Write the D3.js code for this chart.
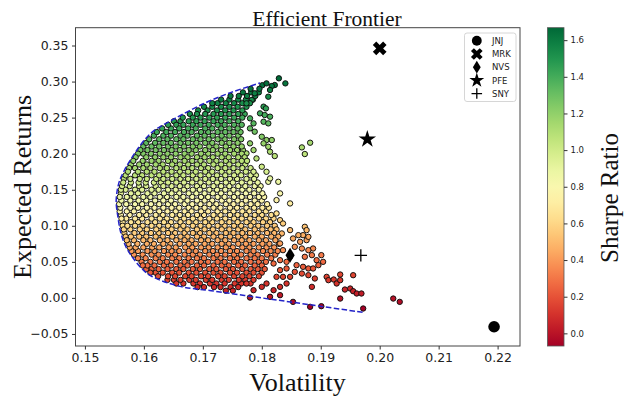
<!DOCTYPE html>
<html>
<head>
<meta charset="utf-8">
<script src="https://cdn.jsdelivr.net/npm/d3@7"></script>
<style>
  body { margin: 0; background: #fff; }
  svg { display: block; }
</style>
</head>
<body>
<script>
// Chart size
var width = 625,
    height = 400;

// Plot box (pixels)
var plotLeft = 75.5, plotRight = 520, plotTop = 27.7, plotBottom = 346;

// Axis limits
var volDomain = [0.1484, 0.2238];
var retDomain = [-0.0667, 0.3747];
var volTicks = [0.15, 0.16, 0.17, 0.18, 0.19, 0.20, 0.21, 0.22];
var retTicks = [-0.05, 0, 0.05, 0.10, 0.15, 0.20, 0.25, 0.30, 0.35];
var sharpeDomain = [-0.069, 1.668];
var sharpeTicks = [0, 0.2, 0.4, 0.6, 0.8, 1.0, 1.2, 1.4, 1.6];

// Simulated portfolios, dense cloud: one return level per row, with the volatilities found on it
var rowReturns = [0.010, 0.015, 0.020, 0.025, 0.030, 0.035, 0.040, 0.045, 0.050, 0.055,
  0.060, 0.065, 0.070, 0.075, 0.080, 0.085, 0.090, 0.095, 0.100, 0.105,
  0.110, 0.115, 0.120, 0.125, 0.130, 0.135, 0.140, 0.145, 0.150, 0.155,
  0.160, 0.165, 0.170, 0.175, 0.180, 0.185, 0.190, 0.195, 0.200, 0.205,
  0.210, 0.215, 0.220, 0.225, 0.230, 0.235, 0.240, 0.245, 0.250, 0.255,
  0.260, 0.265, 0.270, 0.275, 0.280, 0.285, 0.290, 0.295];

var rowVolatilities = [
  [0.1739, 0.1751],
  [0.1691, 0.1702, 0.1719, 0.1730, 0.1747, 0.1760],
  [0.1655, 0.1667, 0.1684, 0.1695, 0.1712, 0.1723, 0.1737, 0.1754, 0.1765, 0.1781],
  [0.1640, 0.1651, 0.1662, 0.1677, 0.1688, 0.1705, 0.1716, 0.1732, 0.1744, 0.1761, 0.1772, 0.1786],
  [0.1624, 0.1641, 0.1653, 0.1670, 0.1681, 0.1697, 0.1709, 0.1726, 0.1737, 0.1753, 0.1767, 0.1779, 0.1795],
  [0.1611, 0.1620, 0.1632, 0.1648, 0.1660, 0.1676, 0.1689, 0.1704, 0.1718, 0.1730, 0.1746, 0.1758, 0.1774, 0.1786, 0.1800],
  [0.1604, 0.1613, 0.1625, 0.1640, 0.1655, 0.1667, 0.1683, 0.1695, 0.1711, 0.1723, 0.1739, 0.1751, 0.1767, 0.1781, 0.1793, 0.1805],
  [0.1598, 0.1606, 0.1618, 0.1634, 0.1646, 0.1662, 0.1674, 0.1690, 0.1702, 0.1718, 0.1732, 0.1744, 0.1760, 0.1772, 0.1788, 0.1800],
  [0.1596, 0.1611, 0.1627, 0.1639, 0.1655, 0.1669, 0.1681, 0.1697, 0.1709, 0.1725, 0.1737, 0.1753, 0.1765, 0.1781, 0.1795, 0.1807],
  [0.1590, 0.1603, 0.1620, 0.1632, 0.1648, 0.1660, 0.1676, 0.1690, 0.1702, 0.1718, 0.1730, 0.1746, 0.1758, 0.1774, 0.1788, 0.1800, 0.1816],
  [0.1583, 0.1598, 0.1613, 0.1625, 0.1641, 0.1653, 0.1669, 0.1683, 0.1695, 0.1711, 0.1724, 0.1738, 0.1753, 0.1765, 0.1781, 0.1793, 0.1809, 0.1823],
  [0.1579, 0.1590, 0.1606, 0.1618, 0.1634, 0.1647, 0.1660, 0.1676, 0.1688, 0.1704, 0.1717, 0.1731, 0.1746, 0.1758, 0.1774, 0.1786, 0.1802, 0.1815, 0.1827],
  [0.1576, 0.1586, 0.1599, 0.1614, 0.1626, 0.1642, 0.1654, 0.1670, 0.1682, 0.1697, 0.1710, 0.1725, 0.1739, 0.1751, 0.1767, 0.1779, 0.1795, 0.1808, 0.1821],
  [0.1574, 0.1589, 0.1605, 0.1617, 0.1633, 0.1645, 0.1661, 0.1676, 0.1688, 0.1703, 0.1716, 0.1732, 0.1744, 0.1760, 0.1773, 0.1786, 0.1801, 0.1813, 0.1829],
  [0.1571, 0.1583, 0.1599, 0.1611, 0.1627, 0.1640, 0.1655, 0.1669, 0.1681, 0.1697, 0.1709, 0.1725, 0.1738, 0.1753, 0.1766, 0.1779, 0.1795, 0.1807, 0.1823],
  [0.1569, 0.1578, 0.1592, 0.1604, 0.1620, 0.1632, 0.1648, 0.1662, 0.1674, 0.1690, 0.1702, 0.1718, 0.1731, 0.1746, 0.1760, 0.1772, 0.1788, 0.1800, 0.1816, 0.1828],
  [0.1567, 0.1584, 0.1597, 0.1612, 0.1625, 0.1641, 0.1653, 0.1669, 0.1683, 0.1695, 0.1711, 0.1723, 0.1739, 0.1752, 0.1767, 0.1780, 0.1793, 0.1809, 0.1821],
  [0.1566, 0.1577, 0.1593, 0.1605, 0.1621, 0.1633, 0.1647, 0.1662, 0.1674, 0.1690, 0.1703, 0.1717, 0.1732, 0.1745, 0.1760, 0.1772, 0.1788, 0.1801, 0.1815, 0.1825],
  [0.1564, 0.1572, 0.1585, 0.1598, 0.1613, 0.1626, 0.1641, 0.1655, 0.1667, 0.1683, 0.1696, 0.1710, 0.1725, 0.1737, 0.1753, 0.1765, 0.1781, 0.1794, 0.1809, 0.1822],
  [0.1564, 0.1578, 0.1590, 0.1606, 0.1619, 0.1634, 0.1646, 0.1662, 0.1676, 0.1688, 0.1704, 0.1716, 0.1732, 0.1745, 0.1759, 0.1774, 0.1786, 0.1802, 0.1814],
  [0.1562, 0.1570, 0.1585, 0.1597, 0.1613, 0.1627, 0.1639, 0.1655, 0.1668, 0.1683, 0.1696, 0.1711, 0.1724, 0.1738, 0.1753, 0.1766, 0.1780, 0.1795, 0.1807, 0.1820],
  [0.1561, 0.1576, 0.1592, 0.1604, 0.1620, 0.1632, 0.1648, 0.1661, 0.1675, 0.1690, 0.1702, 0.1718, 0.1730, 0.1746, 0.1759, 0.1773, 0.1788, 0.1800, 0.1816],
  [0.1559, 0.1571, 0.1583, 0.1599, 0.1611, 0.1626, 0.1640, 0.1654, 0.1669, 0.1681, 0.1697, 0.1709, 0.1725, 0.1738, 0.1752, 0.1767, 0.1779, 0.1795, 0.1807],
  [0.1560, 0.1577, 0.1590, 0.1605, 0.1618, 0.1633, 0.1647, 0.1660, 0.1676, 0.1689, 0.1703, 0.1718, 0.1730, 0.1746, 0.1758, 0.1774, 0.1787, 0.1801, 0.1812],
  [0.1558, 0.1570, 0.1585, 0.1597, 0.1612, 0.1626, 0.1641, 0.1653, 0.1669, 0.1682, 0.1696, 0.1711, 0.1723, 0.1739, 0.1752, 0.1766, 0.1781, 0.1793, 0.1809],
  [0.1562, 0.1577, 0.1591, 0.1604, 0.1619, 0.1633, 0.1646, 0.1662, 0.1674, 0.1690, 0.1703, 0.1716, 0.1732, 0.1745, 0.1759, 0.1773, 0.1788, 0.1800],
  [0.1559, 0.1571, 0.1584, 0.1599, 0.1611, 0.1627, 0.1639, 0.1655, 0.1667, 0.1682, 0.1697, 0.1709, 0.1725, 0.1737, 0.1753, 0.1766, 0.1780, 0.1795, 0.1804],
  [0.1561, 0.1578, 0.1590, 0.1606, 0.1618, 0.1634, 0.1647, 0.1660, 0.1676, 0.1689, 0.1703, 0.1717, 0.1731, 0.1746, 0.1759, 0.1773, 0.1787, 0.1801],
  [0.1561, 0.1569, 0.1585, 0.1597, 0.1613, 0.1625, 0.1641, 0.1654, 0.1668, 0.1683, 0.1695, 0.1711, 0.1724, 0.1738, 0.1752, 0.1767, 0.1779, 0.1795],
  [0.1563, 0.1576, 0.1592, 0.1604, 0.1620, 0.1633, 0.1647, 0.1661, 0.1674, 0.1690, 0.1702, 0.1718, 0.1731, 0.1745, 0.1760, 0.1772, 0.1788, 0.1798],
  [0.1565, 0.1578, 0.1591, 0.1603, 0.1617, 0.1629, 0.1641, 0.1655, 0.1668, 0.1682, 0.1696, 0.1710, 0.1724, 0.1739, 0.1751, 0.1766, 0.1780, 0.1793],
  [0.1566, 0.1577, 0.1593, 0.1605, 0.1621, 0.1633, 0.1648, 0.1662, 0.1675, 0.1689, 0.1704, 0.1717, 0.1731, 0.1746, 0.1758, 0.1774, 0.1787],
  [0.1569, 0.1585, 0.1597, 0.1613, 0.1626, 0.1640, 0.1655, 0.1667, 0.1683, 0.1696, 0.1710, 0.1724, 0.1738, 0.1753, 0.1765, 0.1781, 0.1790],
  [0.1573, 0.1590, 0.1605, 0.1618, 0.1633, 0.1647, 0.1661, 0.1675, 0.1688, 0.1704, 0.1716, 0.1732, 0.1745, 0.1759, 0.1773, 0.1786],
  [0.1575, 0.1585, 0.1599, 0.1611, 0.1627, 0.1639, 0.1655, 0.1668, 0.1682, 0.1697, 0.1709, 0.1725, 0.1738, 0.1752, 0.1767, 0.1781],
  [0.1578, 0.1592, 0.1605, 0.1620, 0.1632, 0.1648, 0.1661, 0.1675, 0.1690, 0.1702, 0.1718, 0.1731, 0.1745, 0.1760, 0.1772],
  [0.1582, 0.1598, 0.1613, 0.1625, 0.1641, 0.1653, 0.1669, 0.1682, 0.1696, 0.1711, 0.1723, 0.1739, 0.1752, 0.1766, 0.1775],
  [0.1586, 0.1604, 0.1619, 0.1633, 0.1646, 0.1662, 0.1674, 0.1690, 0.1703, 0.1717, 0.1732, 0.1744, 0.1760, 0.1771],
  [0.1590, 0.1599, 0.1612, 0.1627, 0.1640, 0.1654, 0.1669, 0.1681, 0.1697, 0.1709, 0.1725, 0.1738, 0.1753, 0.1766],
  [0.1594, 0.1606, 0.1620, 0.1634, 0.1647, 0.1661, 0.1676, 0.1688, 0.1704, 0.1717, 0.1731, 0.1746, 0.1758, 0.1768],
  [0.1599, 0.1613, 0.1626, 0.1641, 0.1654, 0.1668, 0.1683, 0.1695, 0.1711, 0.1723, 0.1739, 0.1752, 0.1766],
  [0.1604, 0.1619, 0.1633, 0.1646, 0.1662, 0.1675, 0.1689, 0.1704, 0.1716, 0.1732, 0.1745, 0.1759],
  [0.1609, 0.1626, 0.1640, 0.1655, 0.1667, 0.1683, 0.1696, 0.1710, 0.1725, 0.1737, 0.1753, 0.1765],
  [0.1617, 0.1633, 0.1646, 0.1662, 0.1674, 0.1690, 0.1703, 0.1717, 0.1732, 0.1745, 0.1760],
  [0.1622, 0.1638, 0.1653, 0.1668, 0.1681, 0.1697, 0.1709, 0.1725, 0.1738, 0.1752, 0.1764],
  [0.1631, 0.1646, 0.1660, 0.1675, 0.1688, 0.1704, 0.1716, 0.1731, 0.1745, 0.1759],
  [0.1641, 0.1655, 0.1667, 0.1683, 0.1696, 0.1710, 0.1725, 0.1737, 0.1753, 0.1766],
  [0.1651, 0.1662, 0.1676, 0.1689, 0.1703, 0.1718, 0.1731, 0.1745, 0.1760],
  [0.1666, 0.1683, 0.1696, 0.1711, 0.1724, 0.1738, 0.1753, 0.1767],
  [0.1678, 0.1690, 0.1704, 0.1718, 0.1731, 0.1745, 0.1760, 0.1771],
  [0.1692, 0.1708, 0.1724, 0.1738, 0.1752, 0.1767],
  [0.1702, 0.1716, 0.1731, 0.1745, 0.1759, 0.1774],
  [0.1716, 0.1725, 0.1739, 0.1753, 0.1767, 0.1780],
  [0.1731, 0.1745, 0.1760, 0.1773, 0.1785],
  [0.1747, 0.1761, 0.1775, 0.1789],
  [0.1768, 0.1782, 0.1795],
  [0.1781, 0.1796],
  [0.1801]
];

// Portfolios scattered outside the dense cloud [volatility, return]
var scatteredPoints = [
  [0.2023, -0.0009], [0.2034, -0.0055], [0.1972, -0.0147], [0.1933, -0.0009], [0.1901, -0.0115],
  [0.1882, -0.0124], [0.1853, -0.0055], [0.1780, 0.0005], [0.1814, 0.0015], [0.1831, 0.0038],
  [0.1969, 0.0061], [0.1961, 0.0061], [0.1955, 0.0093], [0.1950, 0.0130], [0.1941, 0.0116],
  [0.1955, 0.0315], [0.1933, 0.0324], [0.1933, 0.0246], [0.1927, 0.0200], [0.1922, 0.0255],
  [0.1913, 0.0246], [0.1910, 0.0292], [0.1890, 0.0269], [0.1885, 0.0153], [0.1879, 0.0315],
  [0.1868, 0.0338], [0.1856, 0.0361], [0.1859, 0.0454], [0.1870, 0.0431], [0.1879, 0.0408],
  [0.1887, 0.0408], [0.1896, 0.0454], [0.1904, 0.0500], [0.1893, 0.0523], [0.1901, 0.0593],
  [0.1885, 0.0593], [0.1873, 0.0570], [0.1879, 0.0662], [0.1868, 0.0685], [0.1887, 0.0685],
  [0.1856, 0.0708], [0.1865, 0.0778], [0.1876, 0.0801], [0.1853, 0.0824], [0.1862, 0.0870],
  [0.1870, 0.0870], [0.1879, 0.0847], [0.1876, 0.0940], [0.1873, 0.0986], [0.1848, 0.0940],
  [0.1774, 0.0199], [0.1786, 0.0107], [0.1800, 0.0153], [0.1808, 0.0199], [0.1820, 0.0107],
  [0.1831, 0.0153], [0.1842, 0.0199], [0.1836, 0.0292], [0.1848, 0.0292], [0.1825, 0.0292],
  [0.1831, 0.0385], [0.1842, 0.0408], [0.1820, 0.0477], [0.1831, 0.0523], [0.1842, 0.0500],
  [0.1848, 0.0570], [0.1836, 0.0662], [0.1831, 0.0755], [0.1834, 0.0894], [0.1836, 0.1032],
  [0.1831, 0.1078], [0.1825, 0.1171], [0.1825, 0.1356], [0.1848, 0.1310], [0.1831, 0.1449],
  [0.1811, 0.1610], [0.1828, 0.1610], [0.1814, 0.1657], [0.1808, 0.1749], [0.1800, 0.1819],
  [0.1791, 0.1934], [0.1822, 0.1967], [0.1774, 0.2004], [0.1814, 0.2027], [0.1786, 0.2050],
  [0.1811, 0.2096], [0.1780, 0.2143], [0.1803, 0.2143], [0.1808, 0.2189], [0.1817, 0.2189],
  [0.1800, 0.2235], [0.1788, 0.2305], [0.1780, 0.2351], [0.1786, 0.2420], [0.1811, 0.2420],
  [0.1803, 0.2443], [0.1780, 0.2490], [0.1814, 0.2513], [0.1805, 0.2536], [0.1797, 0.2559],
  [0.1807, 0.2628], [0.1803, 0.2652], [0.1774, 0.2698], [0.1783, 0.2744], [0.1811, 0.2790],
  [0.1788, 0.2837], [0.1814, 0.2883], [0.1817, 0.2938], [0.1822, 0.2952], [0.1808, 0.2975],
  [0.1840, 0.2975], [0.1829, 0.3045], [0.1868, 0.2087], [0.1882, 0.2152], [0.1873, 0.1995]
];

// Efficient frontier (dashed line)
var frontierVol = [0.1971, 0.1886, 0.1800, 0.1714, 0.1661, 0.1613, 0.1595, 0.1581, 0.1570, 0.1561, 0.1556,
  0.1553, 0.1555, 0.1559, 0.1567, 0.1584, 0.1612, 0.1650, 0.1703, 0.1748, 0.1797];
var frontierRet = [-0.020, -0.010, 0.000, 0.010, 0.016, 0.030, 0.042, 0.056, 0.070, 0.090, 0.112,
  0.133, 0.150, 0.163, 0.177, 0.200, 0.2285, 0.2476, 0.270, 0.285, 0.298];

// Single stocks
var stockNames = ["JNJ", "MRK", "NVS", "PFE", "SNY"];
var stockVol = [0.2194, 0.2000, 0.1848, 0.1979, 0.1968];
var stockRet = [-0.040, 0.346, 0.059, 0.220, 0.059];

var serif = "'Liberation Serif', 'DejaVu Serif', serif";
var sans = "'DejaVu Sans', sans-serif";

var x = d3.scaleLinear().domain(volDomain).range([plotLeft, plotRight]);
var y = d3.scaleLinear().domain(retDomain).range([plotBottom, plotTop]);
var color = d3.scaleSequential(d3.interpolateRdYlGn).domain(sharpeDomain).clamp(true);

var svg = d3.select("body")
    .append("svg")
    .attr("width", width)
    .attr("height", height);

svg.append("rect").attr("width", width).attr("height", height).attr("fill", "#fff");

// Build the portfolio list
var points = [];
rowReturns.forEach(function (r, i) {
    rowVolatilities[i].forEach(function (v) { points.push({ vol: v, ret: r }); });
});
scatteredPoints.forEach(function (p) { points.push({ vol: p[0], ret: p[1] }); });
// mix the drawing order like a random sample would be
points.forEach(function (p, i) { p.order = (i * 7919) % 1009; });
points.sort(function (a, b) { return a.order - b.order; });

svg.append("clipPath").attr("id", "plot-clip")
    .append("rect")
    .attr("x", plotLeft).attr("y", plotTop)
    .attr("width", plotRight - plotLeft).attr("height", plotBottom - plotTop);

svg.append("g")
    .attr("clip-path", "url(#plot-clip)")
    .selectAll("circle")
    .data(points)
    .enter()
    .append("circle")
    .attr("cx", function (d) { return x(d.vol); })
    .attr("cy", function (d) { return y(d.ret); })
    .attr("r", 2.7)
    .attr("fill", function (d) { return color(d.ret / d.vol); })
    .attr("stroke", "#0d0d0d")
    .attr("stroke-width", 0.95);

// Frontier line
var line = d3.line()
    .x(function (d, i) { return x(frontierVol[i]); })
    .y(function (d, i) { return y(frontierRet[i]); })
    .curve(d3.curveCatmullRom);

svg.append("path")
    .datum(frontierVol)
    .attr("d", line)
    .attr("fill", "none")
    .attr("stroke", "#2424c8")
    .attr("stroke-width", 1.5)
    .attr("stroke-dasharray", "5.5,2.4");

// Stock markers
function drawMarker(g, name, cx, cy, k) {
    var t = "translate(" + cx + "," + cy + ") scale(" + k + ")";
    if (name === "JNJ") {
        g.append("circle").attr("cx", cx).attr("cy", cy).attr("r", 5.8 * k).attr("fill", "#000");
    } else if (name === "MRK") {
        g.append("path").attr("d", d3.symbol(d3.symbolCross, 118)())
            .attr("transform", t + " rotate(45)").attr("fill", "#000");
    } else if (name === "NVS") {
        g.append("path").attr("d", "M0,-7.5L4.6,0L0,7.5L-4.6,0Z")
            .attr("transform", t).attr("fill", "#000");
    } else if (name === "PFE") {
        g.append("path").attr("d", d3.symbol(d3.symbolStar, 95)())
            .attr("transform", t).attr("fill", "#000");
    } else {
        g.append("path").attr("d", "M-6.2,0H6.2M0,-6.2V6.2")
            .attr("transform", t).attr("stroke", "#000").attr("stroke-width", 1.3 / k).attr("fill", "none");
    }
}

var stocks = svg.append("g");
stockNames.forEach(function (name, i) {
    drawMarker(stocks, name, x(stockVol[i]), y(stockRet[i]), 1);
});

// Frame
svg.append("rect")
    .attr("x", plotLeft).attr("y", plotTop)
    .attr("width", plotRight - plotLeft).attr("height", plotBottom - plotTop)
    .attr("fill", "none")
    .attr("stroke", "#444")
    .attr("stroke-width", 1);

// Axes
var xAxis = svg.append("g")
    .attr("transform", "translate(0," + plotBottom + ")")
    .call(d3.axisBottom(x).tickValues(volTicks).tickFormat(d3.format(".2f")).tickSize(3.5).tickPadding(3.5));
var yAxis = svg.append("g")
    .attr("transform", "translate(" + plotLeft + ",0)")
    .call(d3.axisLeft(y).tickValues(retTicks).tickFormat(d3.format(".2f")).tickSize(3.5).tickPadding(3.5));

[xAxis, yAxis].forEach(function (a) {
    a.select(".domain").remove();
    a.selectAll("line").attr("stroke", "#333");
    a.selectAll("text").attr("font-family", sans).attr("font-size", 12.5).attr("fill", "#222");
});

// Legend
var legend = svg.append("g");
legend.append("rect")
    .attr("x", 464.5).attr("y", 33).attr("width", 51.5).attr("height", 68.5)
    .attr("rx", 2.5)
    .attr("fill", "#fff").attr("fill-opacity", 0.85)
    .attr("stroke", "#cccccc").attr("stroke-width", 0.8);
stockNames.forEach(function (name, i) {
    var ly = 40.8 + i * 13.2;
    drawMarker(legend, name, 476.8, ly, 0.85);
    legend.append("text")
        .attr("x", 492).attr("y", ly + 3.2)
        .attr("font-family", sans).attr("font-size", 8.5).attr("fill", "#222")
        .text(name);
});

// Colour bar
var cbLeft = 547.5, cbWidth = 16.5;
var cbY = d3.scaleLinear().domain(sharpeDomain).range([plotBottom, plotTop]);

var grad = svg.append("defs").append("linearGradient")
    .attr("id", "sharpe-grad")
    .attr("x1", 0).attr("y1", 1).attr("x2", 0).attr("y2", 0);
d3.range(0, 1.0001, 0.05).forEach(function (t) {
    grad.append("stop").attr("offset", t).attr("stop-color", d3.interpolateRdYlGn(t));
});

svg.append("rect")
    .attr("x", cbLeft).attr("y", plotTop)
    .attr("width", cbWidth).attr("height", plotBottom - plotTop)
    .attr("fill", "url(#sharpe-grad)")
    .attr("stroke", "#555").attr("stroke-width", 0.8);

var cbAxis = svg.append("g")
    .attr("transform", "translate(" + (cbLeft + cbWidth) + ",0)")
    .call(d3.axisRight(cbY).tickValues(sharpeTicks).tickFormat(d3.format(".1f")).tickSize(3.5).tickPadding(3));
cbAxis.select(".domain").remove();
cbAxis.selectAll("line").attr("stroke", "#333");
cbAxis.selectAll("text").attr("font-family", sans).attr("font-size", 8.5).attr("fill", "#222");

// Titles
svg.append("text")
    .attr("x", 327).attr("y", 26)
    .attr("text-anchor", "middle")
    .attr("font-family", serif).attr("font-size", 21.5).attr("fill", "#111")
    .text("Efficient Frontier");

svg.append("text")
    .attr("x", 297.5).attr("y", 391)
    .attr("text-anchor", "middle")
    .attr("font-family", serif).attr("font-size", 26).attr("fill", "#111")
    .text("Volatility");

svg.append("text")
    .attr("transform", "translate(31," + ((plotTop + plotBottom) / 2) + ") rotate(-90)")
    .attr("text-anchor", "middle")
    .attr("font-family", serif).attr("font-size", 26).attr("fill", "#111")
    .text("Expected Returns");

svg.append("text")
    .attr("transform", "translate(618,198) rotate(-90)")
    .attr("text-anchor", "middle")
    .attr("font-family", serif).attr("font-size", 25).attr("fill", "#111")
    .text("Sharpe Ratio");
</script>
</body>
</html>
